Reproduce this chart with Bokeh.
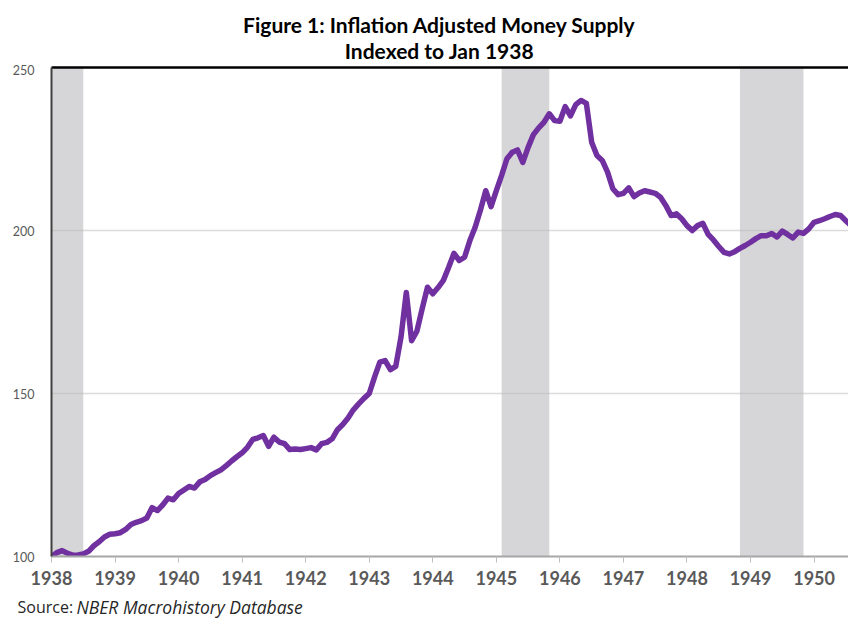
from bokeh.plotting import figure
from bokeh.models import Range1d, FixedTicker, LinearAxis, BoxAnnotation, ColumnDataSource
from bokeh.layouts import column
from bokeh.core.properties import value
from bokeh.embed import file_html
from bokeh.resources import INLINE

# ---- data -------------------------------------------------------------
start_year = 1938
money_1938 = [100.0, 101.2, 101.8, 101.0, 100.4, 100.5, 100.8, 101.6, 103.3, 104.5, 106.0, 106.8]
money_1939 = [107.0, 107.3, 108.3, 109.8, 110.5, 111.0, 111.8, 115.0, 114.1, 115.8, 117.9, 117.4]
money_1940 = [119.3, 120.4, 121.5, 121.0, 122.9, 123.6, 124.8, 125.7, 126.6, 127.9, 129.3, 130.6]
money_1941 = [131.8, 133.5, 135.9, 136.4, 137.1, 133.8, 136.6, 135.1, 134.6, 132.8, 133.0, 132.8]
money_1942 = [133.1, 133.4, 132.7, 134.6, 135.0, 136.1, 138.9, 140.5, 142.5, 145.0, 146.8, 148.5]
money_1943 = [150.0, 155.0, 159.6, 160.1, 157.3, 158.3, 167.3, 181.0, 166.2, 169.1, 176.0, 182.6]
money_1944 = [180.6, 182.5, 184.7, 188.7, 193.0, 190.8, 191.8, 196.9, 201.0, 206.3, 212.2, 207.3]
money_1945 = [212.2, 216.9, 222.0, 224.0, 224.7, 220.9, 225.5, 229.4, 231.5, 233.2, 235.8, 233.7]
money_1946 = [233.5, 238.0, 235.2, 238.6, 239.9, 239.0, 227.1, 223.0, 221.5, 217.9, 212.8, 211.0]
money_1947 = [211.4, 213.1, 210.4, 211.5, 212.2, 211.8, 211.4, 210.2, 207.7, 204.6, 205.1, 203.6]
money_1948 = [201.5, 200.0, 201.5, 202.2, 198.8, 197.1, 195.1, 193.3, 192.8, 193.5, 194.5, 195.4]
money_1949 = [196.4, 197.5, 198.4, 198.4, 199.1, 198.0, 199.8, 198.8, 197.7, 199.5, 199.1, 200.5]
money_1950 = [202.5, 203.0, 203.6, 204.3, 204.9, 204.6, 203.0, 201.5]

# NBER recessions: peak month and trough month (year, month); shading covers whole months
recession_start = [(1937, 5), (1945, 2), (1948, 11)]
recession_end = [(1938, 6), (1945, 10), (1949, 10)]

year_ticks = list(range(1938, 1951))
y_ticks = [100, 150, 200, 250]

title_lines = ["Figure 1: Inflation Adjusted Money Supply", "Indexed to Jan 1938"]
source_parts = ["Source: ", "NBER Macrohistory Database"]

W = 848
FRAME_LEFT = 51

# ---- title strip ------------------------------------------------------
t = figure(width=W, height=64, output_backend="svg", toolbar_location=None,
           x_range=Range1d(0, W), y_range=Range1d(64, 0),
           x_axis_location=None, y_axis_location=None, frame_align=False,
           min_border_left=0, min_border_right=0, min_border_top=0, min_border_bottom=0)
t.outline_line_color = None
t.grid.visible = False
t.text(x=[439, 439], y=[24, 50], text=title_lines, text_align="center",
       text_baseline="middle", text_font=value("Lato"), text_font_style="bold",
       text_font_size="21px", text_color="black")

# ---- main chart -------------------------------------------------------
values = (money_1938 + money_1939 + money_1940 + money_1941 + money_1942 + money_1943 +
          money_1944 + money_1945 + money_1946 + money_1947 + money_1948 + money_1949 + money_1950)
x = [start_year + i / 12.0 for i in range(len(values))]
src = ColumnDataSource(dict(x=x, y=values))

def month_start(tp):
    return tp[0] + (tp[1] - 1) / 12.0

def month_end(tp):
    return tp[0] + tp[1] / 12.0

p = figure(width=W, height=526, output_backend="svg", toolbar_location=None,
           x_range=Range1d(1938, 1950 + 6.5 / 12), y_range=Range1d(100, 250),
           min_border_left=FRAME_LEFT, min_border_right=0, min_border_top=3, min_border_bottom=34)
p.outline_line_color = None

for s0, e0 in zip(recession_start, recession_end):
    p.add_layout(BoxAnnotation(left=month_start(s0), right=month_end(e0), fill_color="#D6D5D7",
                               fill_alpha=1.0, line_color=None, level="image"))

p.line("x", "y", source=src, line_color="#7030A0", line_width=5.5, line_join="round")

p.xgrid.visible = False
p.ygrid.ticker = FixedTicker(ticks=y_ticks)
p.ygrid.grid_line_color = "#BDBDBD"
p.ygrid.grid_line_alpha = 0.55
p.ygrid.grid_line_width = 1.5

xa = p.xaxis[0]
xa.ticker = FixedTicker(ticks=year_ticks)
xa.major_label_overrides = {y: str(y) for y in year_ticks}
xa.axis_line_color = "#A6A6A6"
xa.axis_line_width = 2
xa.major_tick_line_color = "#BFBFBF"
xa.major_tick_out = 6
xa.major_tick_in = 0
xa.minor_tick_line_color = None
xa.major_label_standoff = 8
xa.major_label_text_font = "Lato"
xa.major_label_text_font_style = "bold"
xa.major_label_text_font_size = "18px"
xa.major_label_text_color = "#595959"

ya = p.yaxis[0]
ya.ticker = FixedTicker(ticks=y_ticks)
ya.axis_line_color = "#404040"
ya.axis_line_width = 2
ya.major_tick_line_color = None
ya.minor_tick_line_color = None
ya.major_tick_out = 0
ya.major_label_standoff = 17
ya.major_label_text_font = "Lato"
ya.major_label_text_font_size = "12.5px"
ya.major_label_text_color = "#595959"

top = LinearAxis(ticker=FixedTicker(ticks=[]), axis_line_color="black", axis_line_width=2.5,
                 major_tick_line_color=None, minor_tick_line_color=None,
                 major_tick_out=0, major_label_standoff=0,
                 major_label_text_font_size="0px")
p.add_layout(top, "above")

# ---- source strip -----------------------------------------------------
s = figure(width=W, height=28, output_backend="svg", toolbar_location=None,
           x_range=Range1d(0, W), y_range=Range1d(28, 0),
           x_axis_location=None, y_axis_location=None, frame_align=False,
           min_border_left=0, min_border_right=0, min_border_top=0, min_border_bottom=0)
s.outline_line_color = None
s.grid.visible = False
s.text(x=[17], y=[16], text=[source_parts[0]], text_align="left", text_baseline="middle",
       text_font=value("Open Sans"), text_font_size="16px", text_color="#262626")
s.text(x=[76], y=[16], text=[source_parts[1]], text_align="left", text_baseline="middle",
       text_font=value("Open Sans"), text_font_style="italic", text_font_size="17.5px",
       text_color="#262626")

layout = column(t, p, s, spacing=0)
open("out.html", "w").write(file_html(layout, INLINE))
